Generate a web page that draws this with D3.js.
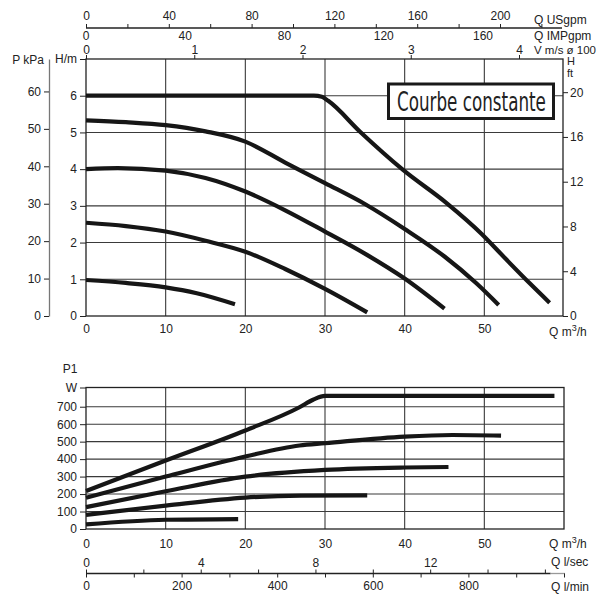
<!DOCTYPE html>
<html><head><meta charset="utf-8">
<script src="https://cdn.jsdelivr.net/npm/d3@7"></script>
<style>
body{margin:0;background:#fff;}
svg{display:block;font-family:"Liberation Sans",Arial,Helvetica,sans-serif;font-size:12px;}
text{fill:#222;}
</style></head><body>
<svg id="c" width="605" height="595"></svg>
<script>
// ---------- data ----------
const qTicks = [0, 10, 20, 30, 40, 50];
const hTicks = [0, 1, 2, 3, 4, 5, 6];
const kpaTicks = [0, 10, 20, 30, 40, 50, 60];
const ftTicks = [0, 4, 8, 12, 16, 20];
const usgpmTicks = [0, 20, 40, 60, 80, 100, 120, 140, 160, 180, 200, 220];
const impTicks = [0, 40, 80, 120, 160];
const vTicks = [0, 1, 2, 3, 4];
const pTicks = [0, 100, 200, 300, 400, 500, 600, 700];
const lsecTicks = [0, 2, 4, 6, 8, 10, 12, 14, 16];
const lminTicks = [0, 100, 200, 300, 400, 500, 600, 700, 800, 900, 1000];

// head curves (Q m3/h, H m)
const head1Q = [0, 10, 20, 28.6, 29.6, 30.4, 34.4, 39.8, 45.3, 49.6, 52.8, 55.7, 58.2];
const head1H = [6.0, 6.0, 6.0, 6.0, 5.97, 5.86, 5.02, 3.98, 3.07, 2.25, 1.53, 0.89, 0.36];
const head2Q = [0, 5, 10, 15, 20, 25, 30, 35, 40, 45, 49, 51.8];
const head2H = [5.33, 5.28, 5.2, 5.03, 4.75, 4.18, 3.62, 3.05, 2.37, 1.62, 0.89, 0.3];
const head3Q = [0, 4, 10, 15, 20, 25, 30, 35, 40, 45];
const head3H = [4.0, 4.03, 3.96, 3.76, 3.39, 2.88, 2.3, 1.7, 1.02, 0.2];
const head4Q = [0, 5, 10, 15, 20, 25, 30, 35.3];
const head4H = [2.54, 2.45, 2.3, 2.05, 1.75, 1.28, 0.74, 0.1];
const head5Q = [0, 5, 10, 13.9, 18.7];
const head5H = [0.98, 0.9, 0.78, 0.62, 0.32];

// power curves (Q m3/h, P1 W)
const pow1Q = [0, 10, 20, 26.8, 28.5, 30, 40, 50, 58.8];
const pow1P = [218, 392, 564, 697, 740, 762, 762, 762, 762];
const pow2Q = [0, 10, 20, 26.8, 30, 40, 46, 52.1];
const pow2P = [179, 300, 415, 478, 491, 529, 538, 535];
const pow3Q = [0, 10, 20, 30, 40, 45.5];
const pow3P = [125, 216, 300, 338, 352, 355];
const pow4Q = [0, 10, 20, 27, 35.3];
const pow4P = [81, 134, 180, 191, 192];
const pow5Q = [0, 10, 19.1];
const pow5P = [26, 53, 57];

const boxLabel = "Courbe constante";

// ---------- drawing ----------
const svg = d3.select("#c");
const X0 = 86, X1 = 564;
const x = d3.scaleLinear().domain([0, 60]).range([X0, X1]);
const yH = d3.scaleLinear().domain([0, 7]).range([316, 59]);
const yFt = d3.scaleLinear().domain([0, 7 * 3.2808]).range([316, 59]);
const yKpa = d3.scaleLinear().domain([0, 7 * 9.81]).range([316, 59]);
const usgpm = d3.scaleLinear().domain([0, 200]).range([X0, 500]);
const imp = d3.scaleLinear().domain([0, 160]).range([X0, 483]);
const vel = d3.scaleLinear().domain([0, 4]).range([X0, 519]);
const yP = d3.scaleLinear().domain([0, 810]).range([529, 387.5]);
const lsec = d3.scaleLinear().domain([0, 60 / 3.6]).range([X0, X1]);
const lmin = d3.scaleLinear().domain([0, 1000]).range([X0, X1]);

const GRID = "#3a3a3a", INK = "#222";
const fmt = d3.format("d");

function styleAxis(g) {
  g.selectAll(".tick line").attr("stroke", INK).attr("stroke-width", 1);
  g.selectAll("path.domain").attr("stroke", INK);
  g.selectAll("text").style("font-size", "12px").attr("fill", INK)
    .style("font-family", '"Liberation Sans",Arial,sans-serif');
}

// ===== TOP CHART =====
const gTop = svg.append("g");
gTop.selectAll(".vg").data(qTicks.slice(1)).join("line")
  .attr("x1", d => x(d)).attr("x2", d => x(d)).attr("y1", yH(7)).attr("y2", yH(0))
  .attr("stroke", GRID).attr("stroke-width", 1.1);
gTop.selectAll(".hg").data(hTicks.slice(1)).join("line")
  .attr("x1", X0).attr("x2", X1 - 1).attr("y1", d => yH(d)).attr("y2", d => yH(d))
  .attr("stroke", GRID).attr("stroke-width", 1.1);
gTop.append("rect").attr("x", X0).attr("y", yH(7)).attr("width", X1 - 1 - X0).attr("height", yH(0) - yH(7))
  .attr("fill", "none").attr("stroke", "#222").attr("stroke-width", 1.3);

const lineH = d3.line().x(d => x(d[0])).y(d => yH(d[1])).curve(d3.curveMonotoneX);
const heads = [[head1Q, head1H], [head2Q, head2H], [head3Q, head3H], [head4Q, head4H], [head5Q, head5H]];
gTop.selectAll(".hc").data(heads).join("path")
  .attr("d", s => lineH(s[0].map((q, i) => [q, s[1][i]])))
  .attr("fill", "none").attr("stroke", "#161616").attr("stroke-width", 4.2).attr("stroke-linecap", "butt");

const gH = gTop.append("g").attr("transform", `translate(${X0},0)`)
  .call(d3.axisLeft(yH).tickValues(hTicks.concat([7])).tickSize(6).tickPadding(3)
    .tickFormat(d => d === 7 ? "H/m" : fmt(d)));
styleAxis(gH); gH.select("path.domain").remove();

const gK = gTop.append("g").attr("transform", "translate(49,0)")
  .call(d3.axisLeft(yKpa).tickValues(kpaTicks).tickSize(5).tickSizeOuter(0).tickPadding(3).tickFormat(fmt));
styleAxis(gK); gK.select("path.domain").attr("stroke", "#777").attr("stroke-width", 1.3);
gTop.append("text").attr("x", 44).attr("y", 64).attr("text-anchor", "end").text("P kPa");

const gF = gTop.append("g").attr("transform", `translate(${X1 - 1},0)`)
  .call(d3.axisRight(yFt).tickValues(ftTicks).tickSize(5).tickPadding(2).tickFormat(fmt));
styleAxis(gF); gF.select("path.domain").remove();
gTop.append("text").attr("x", 567).attr("y", 64.5).style("font-size", "11px").text("H");
gTop.append("text").attr("x", 567).attr("y", 76.5).style("font-size", "11px").text("ft");

const gQ = gTop.append("g").attr("transform", `translate(0,${yH(0)})`)
  .call(d3.axisBottom(x).tickValues(qTicks).tickSize(0).tickPadding(8).tickFormat(fmt));
styleAxis(gQ); gQ.select("path.domain").remove();
const qt = gTop.append("text").attr("x", 549).attr("y", 336);
qt.append("tspan").text("Q m");
qt.append("tspan").attr("dy", -5).style("font-size", "9px").text("3");
qt.append("tspan").attr("dy", 5).text("/h");

const gU = gTop.append("g").attr("transform", "translate(0,28)")
  .call(d3.axisTop(usgpm).tickValues(usgpmTicks).tickSize(4).tickSizeOuter(0).tickPadding(4)
    .tickFormat(d => d % 40 === 0 ? fmt(d) : ""));
styleAxis(gU);
gU.select("path.domain").attr("d", `M${X0},0H${X1 - 2}`).attr("stroke-width", 1.3);
gTop.append("text").attr("x", 534).attr("y", 23.5).text("Q USgpm");

gTop.selectAll(".imp").data(impTicks).join("text")
  .attr("x", d => imp(d)).attr("y", 40).attr("text-anchor", "middle").text(d => fmt(d));
gTop.append("text").attr("x", 534).attr("y", 40).text("Q IMPgpm");

const gV = gTop.append("g").attr("transform", `translate(0,${yH(7)})`)
  .call(d3.axisTop(vel).tickValues(vTicks).tickSize(4).tickPadding(1).tickFormat(fmt));
styleAxis(gV); gV.select("path.domain").remove();
gTop.append("text").attr("x", 534).attr("y", 53.5).style("font-size", "11.5px").text("V m/s ø 100");

// label box: condensed text scaled horizontally to fit the frame
const bx = gTop.append("g");
bx.append("rect").attr("x", 388.5).attr("y", 84).attr("width", 165).attr("height", 34.5)
  .attr("fill", "#fff").attr("stroke", "#1a1a1a").attr("stroke-width", 3);
const bt = bx.append("text").attr("x", 0).attr("y", 0)
  .style("font-family", '"Liberation Sans Narrow","DejaVu Sans Condensed","Arial Narrow",sans-serif')
  .style("font-size", "26px").attr("fill", "#222").text(boxLabel);
const natW = bt.node().getComputedTextLength() || 149;
bt.attr("transform", `translate(397,110.5) scale(${149 / natW},1)`);

// ===== BOTTOM CHART =====
const gBot = svg.append("g");
gBot.selectAll(".vg2").data(qTicks.slice(1)).join("line")
  .attr("x1", d => x(d)).attr("x2", d => x(d)).attr("y1", yP(810)).attr("y2", yP(0))
  .attr("stroke", GRID).attr("stroke-width", 1.1);
gBot.selectAll(".hg2").data(pTicks.slice(1)).join("line")
  .attr("x1", X0).attr("x2", X1).attr("y1", d => yP(d)).attr("y2", d => yP(d))
  .attr("stroke", GRID).attr("stroke-width", 1.1);
gBot.append("rect").attr("x", X0).attr("y", yP(810)).attr("width", X1 - X0).attr("height", yP(0) - yP(810))
  .attr("fill", "none").attr("stroke", "#222").attr("stroke-width", 1.3);

const lineP = d3.line().x(d => x(d[0])).y(d => yP(d[1])).curve(d3.curveMonotoneX);
const pows = [[pow1Q, pow1P], [pow2Q, pow2P], [pow3Q, pow3P], [pow4Q, pow4P], [pow5Q, pow5P]];
gBot.selectAll(".pc").data(pows).join("path")
  .attr("d", s => lineP(s[0].map((q, i) => [q, s[1][i]])))
  .attr("fill", "none").attr("stroke", "#161616").attr("stroke-width", 4.2).attr("stroke-linecap", "butt");

const gP = gBot.append("g").attr("transform", `translate(${X0},0)`)
  .call(d3.axisLeft(yP).tickValues(pTicks.concat([810])).tickSize(6).tickPadding(3)
    .tickFormat(d => d === 810 ? "W" : fmt(d)));
styleAxis(gP); gP.select("path.domain").remove();
gBot.append("text").attr("x", 70).attr("y", 373).attr("text-anchor", "middle").text("P1");

const gQ2 = gBot.append("g").attr("transform", `translate(0,${yP(0)})`)
  .call(d3.axisBottom(x).tickValues(qTicks).tickSize(0).tickPadding(10).tickFormat(fmt));
styleAxis(gQ2); gQ2.select("path.domain").remove();
const qt2 = gBot.append("text").attr("x", 549).attr("y", 548);
qt2.append("tspan").text("Q m");
qt2.append("tspan").attr("dy", -5).style("font-size", "9px").text("3");
qt2.append("tspan").attr("dy", 5).text("/h");

const gS = gBot.append("g").attr("transform", "translate(0,573.5)")
  .call(d3.axisTop(lsec).tickValues(lsecTicks).tickSize(4).tickSizeOuter(0).tickPadding(3)
    .tickFormat(d => d % 4 === 0 && d <= 12 ? fmt(d) : ""));
styleAxis(gS);
gS.select("path.domain").attr("d", `M${X0},0H${lsec(16.2)}`).attr("stroke-width", 1.3);
gS.append("line").attr("x1", lsec(16.2)).attr("x2", X1 + 1).attr("stroke", "#999").attr("stroke-width", 1.3);
gBot.append("text").attr("x", 551).attr("y", 566).text("Q l/sec");

const gM = gBot.append("g").attr("transform", "translate(0,573.5)")
  .call(d3.axisBottom(lmin).tickValues(lminTicks).tickSize(4).tickSizeOuter(0).tickPadding(4)
    .tickFormat(d => d % 200 === 0 && d <= 800 ? fmt(d) : ""));
styleAxis(gM); gM.select("path.domain").remove();
gBot.append("text").attr("x", 551).attr("y", 591).text("Q l/min");
</script>
</body></html>
